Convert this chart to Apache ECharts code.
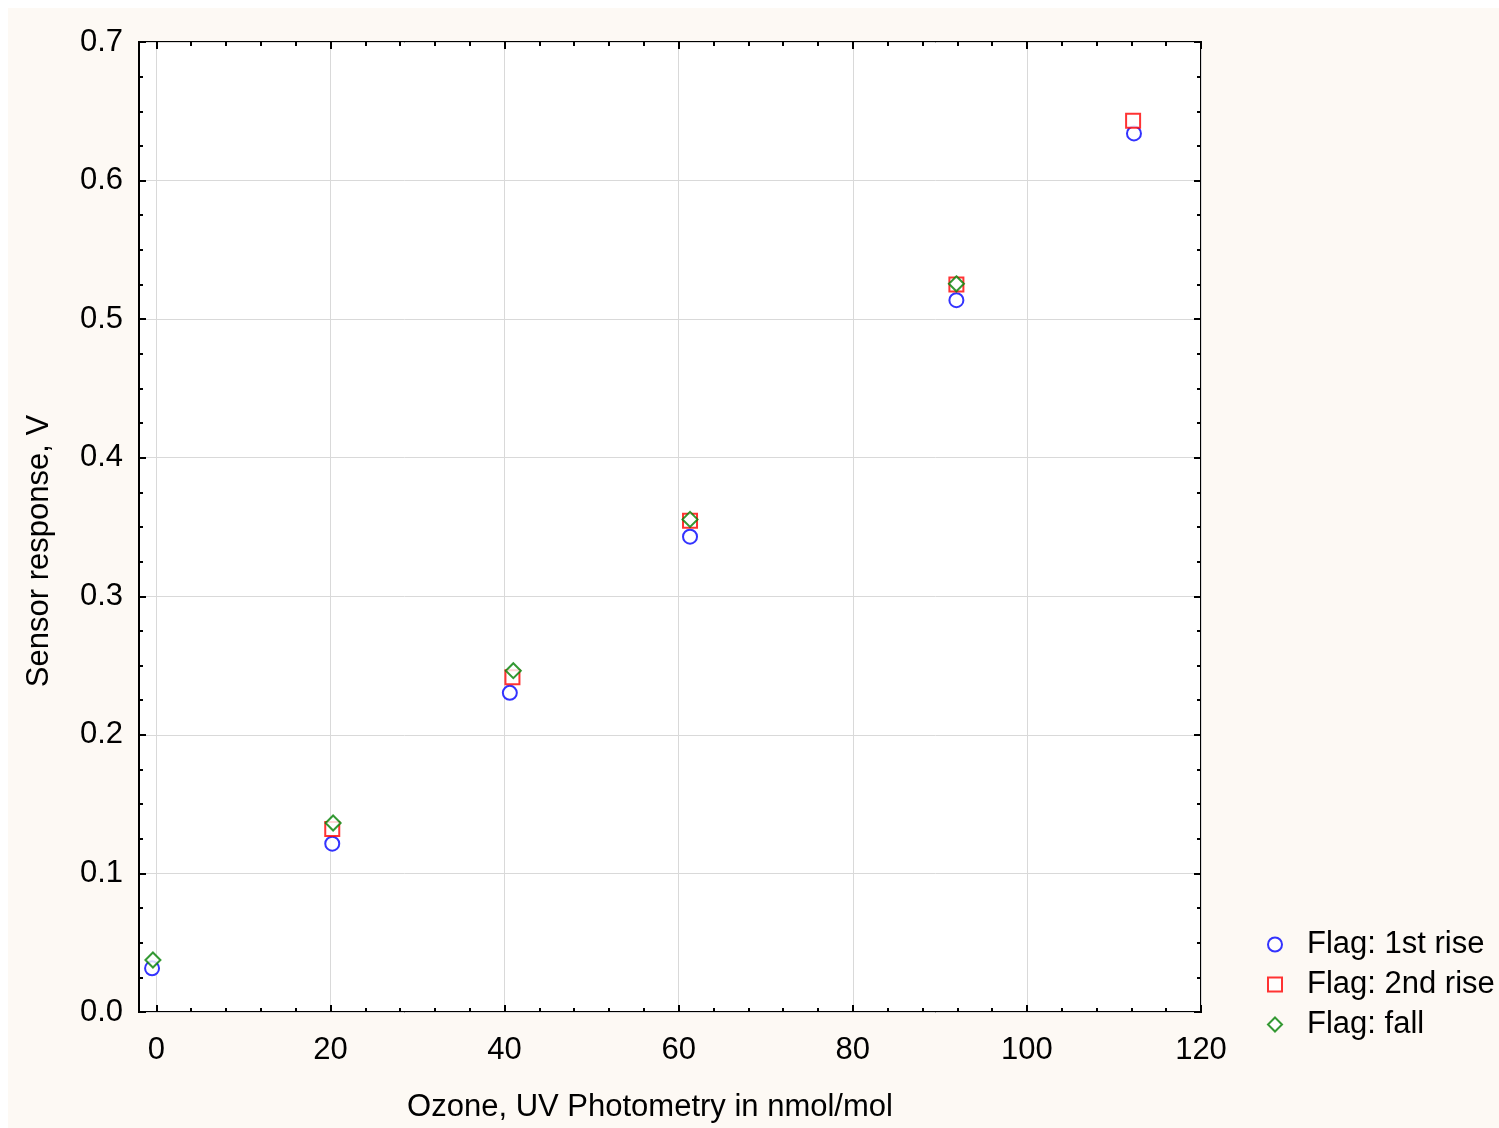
<!DOCTYPE html>
<html>
<head>
<meta charset="utf-8">
<script src="https://cdn.jsdelivr.net/npm/echarts@6/dist/echarts.min.js"></script>
<style>
  html, body { margin: 0; padding: 0; background: #fff; }
  #mainChart { position: absolute; left: 8px; top: 8px; width: 1491px; height: 1120px; background: #fdf9f4; }
</style>
</head>
<body>
<div id="mainChart"></div>
<script>
// data: [ozone nmol/mol, sensor response V]
var firstRise = [[-0.5, 0.0315], [20.2, 0.1215], [40.6, 0.2303], [61.3, 0.343], [91.9, 0.5137], [112.3, 0.634]];
var secondRise = [[20.2, 0.132], [40.9, 0.2415], [61.3, 0.3545], [91.9, 0.525], [112.2, 0.6432]];
var fall = [[-0.4, 0.0375], [20.3, 0.1364], [41.0, 0.2463], [61.3, 0.3555], [91.9, 0.5255]];

var xTicks = [0, 20, 40, 60, 80, 100, 120];
var xMinorTicks = [0, 4, 8, 12, 16, 20, 24, 28, 32, 36, 40, 44, 48, 52, 56, 60, 64, 68, 72, 76, 80, 84, 88, 92, 96, 100, 104, 108, 112, 116, 120];

var font = "'Liberation Sans', Arial, sans-serif";
var fs = 31;

var chart = echarts.init(document.getElementById("mainChart"));

function xAxisOf(pos, ticks, len, main) {
  return {
    type: "value",
    position: pos,
    min: -2,
    max: 120,
    axisLine: { show: false, onZero: false },
    axisTick: { show: true, inside: true, length: len, customValues: ticks, lineStyle: { color: "#000", width: 2 } },
    axisLabel: {
      show: main && pos === "bottom",
      customValues: ticks,
      margin: 23,
      fontSize: fs,
      fontFamily: font,
      color: "#000",
    },
    splitLine: { show: main && pos === "bottom", lineStyle: { color: "#d9d9d9", width: 1 } },
    name: main && pos === "bottom" ? "Ozone, UV Photometry in nmol/mol" : "",
    nameLocation: "middle",
    nameGap: 80,
    nameTextStyle: { fontSize: fs, fontFamily: font, color: "#000", padding: [0, 40, 0, 0] },
  };
}

function yAxisOf(pos) {
  var main = pos === "left";
  return {
    type: "value",
    position: pos,
    min: 0,
    max: 0.7,
    interval: 0.1,
    axisLine: { show: false, onZero: false },
    axisTick: { show: true, inside: true, length: 7, lineStyle: { color: "#000", width: 2 } },
    minorTick: { show: true, splitNumber: 4, length: 4, lineStyle: { color: "#000", width: 2 } },
    axisLabel: {
      show: main,
      margin: 16,
      fontSize: fs,
      fontFamily: font,
      color: "#000",
      formatter: function (v) { return v.toFixed(1); },
    },
    splitLine: { show: main, lineStyle: { color: "#d9d9d9", width: 1 } },
    name: main ? "Sensor response, V" : "",
    nameLocation: "middle",
    nameGap: 84,
    nameTextStyle: { fontSize: fs, fontFamily: font, color: "#000", padding: [0, 48, 0, 0] },
  };
}

var option = {
  animation: false,
  grid: {
    left: 131,
    right: 298,
    top: 34,
    bottom: 116,
    show: true,
    backgroundColor: "#fff",
    borderColor: "#000",
    borderWidth: 2,
  },
  legend: {
    orient: "vertical",
    left: 1254,
    top: 916,
    itemWidth: 14,
    itemHeight: 14,
    itemGap: 9,
    textStyle: { fontSize: fs, fontFamily: font, color: "#000", lineHeight: 30, padding: [0, 0, 0, 20] },
    data: ["Flag: 1st rise", "Flag: 2nd rise", "Flag: fall"],
  },
  xAxis: [
    xAxisOf("bottom", xTicks, 7, true),
    xAxisOf("bottom", xMinorTicks, 4, false),
    xAxisOf("top", xTicks, 7, true),
    xAxisOf("top", xMinorTicks, 4, false),
  ],
  yAxis: [yAxisOf("left"), yAxisOf("right")],
  series: [
    {
      name: "Flag: 1st rise",
      type: "scatter",
      symbol: "emptyCircle",
      symbolSize: 14,
      itemStyle: { color: "#0000ff", borderWidth: 2.5 },
      data: firstRise,
    },
    {
      name: "Flag: 2nd rise",
      type: "scatter",
      symbol: "emptyRect",
      symbolSize: 14,
      itemStyle: { color: "#ff0000", borderWidth: 2.5 },
      data: secondRise,
    },
    {
      name: "Flag: fall",
      type: "scatter",
      symbol: "emptyDiamond",
      symbolSize: 15,
      itemStyle: { color: "#008000", borderWidth: 2.5 },
      data: fall,
    },
  ],
};
chart.setOption(option);
</script>
</body>
</html>
